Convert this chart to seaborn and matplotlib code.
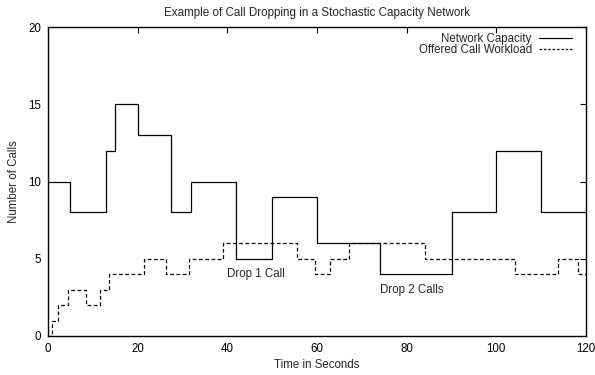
import matplotlib
matplotlib.use("Agg")
import matplotlib.pyplot as plt
import seaborn as sns
import pandas as pd

# Data
cap_time = [0, 5, 13, 15, 20, 27.5, 32, 42, 50, 60, 74, 90, 100, 110, 120]
cap_vals = [10, 8, 12, 15, 13, 8, 10, 5, 9, 6, 4, 8, 12, 8, 8]
load_time = [0, 1, 2.3, 4.5, 8.5, 11.7, 13.7, 21.4, 26.3, 31.4, 39, 55.5, 59.6,
             62.8, 67.2, 84.2, 104.2, 113.8, 118.2, 120]
load_vals = [0, 1, 2, 3, 2, 3, 4, 5, 4, 5, 6, 5, 4, 5, 6, 5, 4, 5, 4, 4]
x_ticks = [0, 20, 40, 60, 80, 100, 120]
y_ticks = [0, 5, 10, 15, 20]
annotations = [("Drop 1 Call", 40, 4.0), ("Drop 2 Calls", 74, 2.95)]

sns.set_theme(style="white")
plt.rcParams['font.family'] = ['Liberation Sans', 'DejaVu Sans']
FS = 8.3

fig = plt.figure(figsize=(5.95, 3.75), dpi=100)
ax = fig.add_axes([48/595, 1-336/375, (586-48)/595, (336-27)/375])

cap_df = pd.DataFrame({"t": cap_time, "v": cap_vals})
load_df = pd.DataFrame({"t": load_time, "v": load_vals})

sns.lineplot(data=cap_df, x="t", y="v", ax=ax, drawstyle="steps-post",
             color="black", lw=0.9, label="Network Capacity", estimator=None)
sns.lineplot(data=load_df, x="t", y="v", ax=ax, drawstyle="steps-post",
             color="black", lw=0.9, label="Offered Call Workload", estimator=None)
ax.lines[1].set_dashes([3, 2])

for txt, xx, yy in annotations:
    ax.text(xx, yy, txt, fontsize=FS, ha="left", va="center")

ax.set_xlim(0, 120)
ax.set_ylim(0, 20)
ax.set_xticks(x_ticks)
ax.set_yticks(y_ticks)
ax.tick_params(direction="in", length=4, width=0.8, top=True, right=True,
               labelsize=FS, pad=5, colors="black")
for s in ax.spines.values():
    s.set_visible(True)
    s.set_color("black")
    s.set_linewidth(1.0)
ax.set_xlabel("Time in Seconds", fontsize=FS, labelpad=3)
ax.set_ylabel("Number of Calls", fontsize=FS, labelpad=6)
ax.set_title("Example of Call Dropping in a Stochastic Capacity Network", fontsize=8.4, pad=8)

leg = ax.legend(loc="upper right", bbox_to_anchor=(0.985, 1.0), frameon=False,
                markerfirst=False, fontsize=FS, handlelength=2.9, borderaxespad=0.1,
                labelspacing=-0.05, handletextpad=0.6)
for h in leg.get_lines():
    h.set_linewidth(0.9)
leg.get_lines()[1].set_dashes([2, 1.5])

fig.savefig("out.png", dpi=100)
